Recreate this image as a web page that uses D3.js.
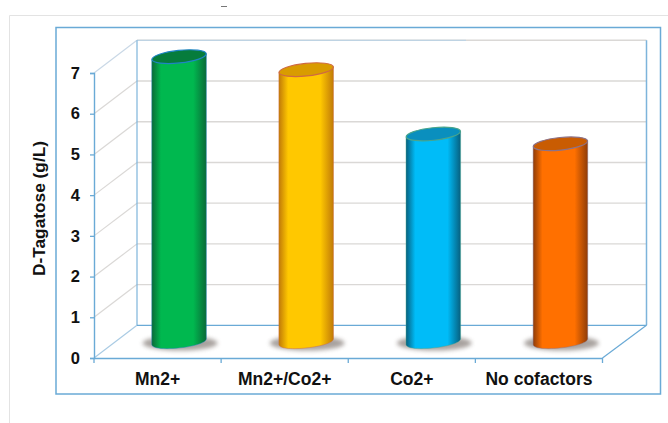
<!DOCTYPE html>
<html>
<head>
<meta charset="utf-8">
<script src="https://cdn.jsdelivr.net/npm/d3@7"></script>
<style>
  html, body { margin: 0; padding: 0; background: #fff; }
  svg { display: block; }
  text { font-family: "Liberation Sans", Arial, sans-serif; font-weight: bold; fill: #111; }
</style>
</head>
<body>
<div id="chart"></div>
<script>
const categories = ['Mn2+', 'Mn2+/Co2+', 'Co2+', 'No cofactors'];
const values = [7.0, 6.68, 5.1, 4.86];
const yTicks = [0, 1, 2, 3, 4, 5, 6, 7];
const bodyColors = ['#00b84f', '#ffc800', '#00bcf8', '#ff7000'];
const edgeColors = ['#0a6a38', '#c07a08', '#07607f', '#8f3c08'];
const topColors = ['#067c3c', '#d99c00', '#0a8fbe', '#c95c02'];
const rimColors = ['#1f84c4', '#cf6a42', '#4aa58c', '#8d7288'];

const width = 668, height = 423;
const axisBlue = '#6aaad6';
const gridGrey = '#dad8d6';

const svg = d3.select('#chart').append('svg')
    .attr('width', width)
    .attr('height', height);

const defs = svg.append('defs');
defs.append('filter').attr('id', 'shadowBlur')
    .attr('x', '-20%').attr('width', '140%').attr('y', '-40%').attr('height', '180%')
    .append('feGaussianBlur').attr('stdDeviation', 2);

// Horizontal shading that makes each bar look round
categories.forEach((c, i) => {
    const grad = defs.append('linearGradient').attr('id', 'body' + i);
    [[0, edgeColors[i]], [0.17, bodyColors[i]], [0.76, bodyColors[i]], [1, edgeColors[i]]].forEach(s => {
        grad.append('stop').attr('offset', s[0]).attr('stop-color', s[1]);
    });
});

// Outer page frame
svg.append('path')
    .attr('d', 'M9.5,423V15.5H668')
    .attr('fill', 'none')
    .attr('stroke', '#e3e3e3')
    .attr('stroke-width', 1);

// Small stray dash above the chart
svg.append('path')
    .attr('d', 'M221,6.5H227')
    .attr('stroke', '#777')
    .attr('stroke-width', 1);

// Chart frame
svg.append('rect')
    .attr('x', 56).attr('y', 27.5)
    .attr('width', 604.5).attr('height', 366.5)
    .attr('fill', '#fff')
    .attr('stroke', '#6aaad6')
    .attr('stroke-width', 1.5);

// Scales
const x = d3.scaleBand().domain(categories).range([94, 602.5]);
const y = d3.scaleLinear().domain([0, 7]).range([358, 73]);
const depthX = 43, depthY = -32.7;
const wallRight = 602.5 + depthX + 1;

const plot = svg.append('g');

// Back wall gridlines and diagonal side lines
plot.selectAll('.grid-back')
    .data(yTicks.slice(1))
    .enter().append('line')
    .attr('class', 'grid-back')
    .attr('x1', 94 + depthX).attr('x2', wallRight)
    .attr('y1', d => y(d) + depthY).attr('y2', d => y(d) + depthY)
    .attr('stroke', gridGrey)
    .attr('stroke-width', 1.4);

plot.append('line')
    .attr('x1', 137).attr('x2', 466)
    .attr('y1', y(7) + depthY).attr('y2', y(7) + depthY)
    .attr('stroke', '#b7d2e6')
    .attr('stroke-width', 1);

plot.selectAll('.grid-side')
    .data(yTicks)
    .enter().append('line')
    .attr('class', 'grid-side')
    .attr('x1', 94).attr('x2', 94 + depthX)
    .attr('y1', d => y(d)).attr('y2', d => y(d) + depthY)
    .attr('stroke', d => d === 0 ? '#a9cbe4' : d === 7 ? '#c9d8e6' : gridGrey)
    .attr('stroke-width', 1.2);

// Back wall edges and floor
plot.append('line')
    .attr('x1', 137).attr('x2', 137)
    .attr('y1', y(0) + depthY).attr('y2', y(7) + depthY)
    .attr('stroke', '#7db4db').attr('stroke-width', 1.2);
plot.append('line')
    .attr('x1', wallRight).attr('x2', wallRight)
    .attr('y1', y(0) + depthY).attr('y2', y(7) + depthY)
    .attr('stroke', '#7db4db').attr('stroke-width', 1.5);
plot.append('line')
    .attr('x1', 137).attr('x2', wallRight)
    .attr('y1', y(0) + depthY).attr('y2', y(0) + depthY)
    .attr('stroke', axisBlue).attr('stroke-width', 1.2);
plot.append('line')
    .attr('x1', 602.5).attr('x2', wallRight)
    .attr('y1', y(0)).attr('y2', y(0) + depthY)
    .attr('stroke', axisBlue).attr('stroke-width', 1.2);

// Cylinders sit half way into the depth of the floor
const rx = 27.3, ry = 6.3, tilt = -6;
const bars = plot.selectAll('.bar')
    .data(categories)
    .enter().append('g')
    .attr('class', 'bar');

const cx = d => x(d) + x.bandwidth() / 2 + depthX / 2;
const baseY = y(0) + depthY / 2;
const topY = (d, i) => y(values[i]) + depthY / 2;
const lift = rx * Math.sin(-tilt * Math.PI / 180);

bars.append('ellipse')
    .attr('cx', d => cx(d) + 1)
    .attr('cy', baseY + 1.5)
    .attr('rx', rx + 10)
    .attr('ry', ry + 1)
    .attr('fill', '#7a716c')
    .attr('opacity', 0.65)
    .attr('filter', 'url(#shadowBlur)');

bars.append('path')
    .attr('d', (d, i) => {
        const c = cx(d), t = topY(d, i);
        const p = d3.path();
        const bulge = ry * 4 / 3;
        p.moveTo(c - rx, t + lift);
        p.lineTo(c - rx, baseY + lift);
        p.bezierCurveTo(c - rx, baseY + lift + bulge, c + rx, baseY - lift + bulge, c + rx, baseY - lift);
        p.lineTo(c + rx, t - lift);
        p.closePath();
        return p.toString();
    })
    .attr('fill', (d, i) => `url(#body${i})`)
    .attr('stroke', (d, i) => rimColors[i])
    .attr('stroke-opacity', 0.55)
    .attr('stroke-width', 0.8);

bars.append('ellipse')
    .attr('transform', (d, i) => `rotate(${tilt} ${cx(d)} ${topY(d, i)})`)
    .attr('cx', d => cx(d))
    .attr('cy', topY)
    .attr('rx', rx)
    .attr('ry', ry)
    .attr('fill', (d, i) => topColors[i])
    .attr('stroke', (d, i) => rimColors[i])
    .attr('stroke-width', 1.2);

// Axes
const yAxis = svg.append('g')
    .attr('transform', 'translate(94,0)')
    .call(d3.axisLeft(y).tickValues(yTicks).tickSize(4).tickPadding(10).tickFormat(d3.format('d')));
yAxis.selectAll('text').style('font-size', '16.5px');

const xAxis = svg.append('g')
    .attr('transform', 'translate(0,358)')
    .call(d3.axisBottom(x).tickSize(0).tickPadding(14.5));
xAxis.selectAll('text').style('font-size', '17.5px');

// Band axis ticks sit on the centres, the reference has them on the band edges
xAxis.selectAll('.edge-tick')
    .data([...categories.map(d => x(d)), x.range()[1]])
    .enter().append('line')
    .attr('class', 'edge-tick')
    .attr('x1', d => d).attr('x2', d => d)
    .attr('y1', 0).attr('y2', 5)
    .attr('stroke', axisBlue)
    .attr('stroke-width', 1.3);

[yAxis, xAxis].forEach(a => {
    a.selectAll('.domain').attr('stroke', axisBlue).attr('stroke-width', 1.4);
    a.selectAll('.tick line').attr('stroke', axisBlue).attr('stroke-width', 1.3);
    a.attr('font-family', null);
});

// Y axis title
svg.append('text')
    .attr('transform', 'translate(44.5,208.5) rotate(-90)')
    .attr('text-anchor', 'middle')
    .style('font-size', '17.3px')
    .text('D-Tagatose (g/L)');
</script>
</body>
</html>
